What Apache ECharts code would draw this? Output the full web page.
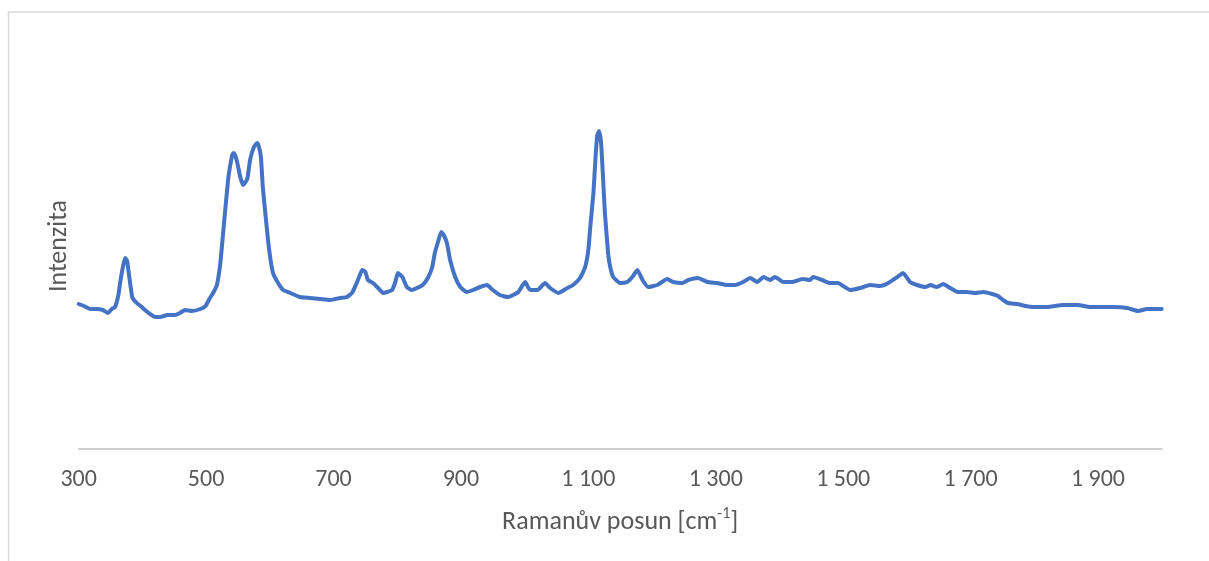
<!DOCTYPE html>
<html><head><meta charset="utf-8">
<script src="https://cdn.jsdelivr.net/npm/echarts@6/dist/echarts.min.js"></script>
<style>html,body{margin:0;padding:0;background:#fff}#c{width:1209px;height:561px}</style>
</head><body><div id="c"></div>
<script>
// Raman shift [cm-1]
const ramanShift = [300,308,318,327,338,346,352,357,362,365,370,373,376,379,384,388,393,399,404,412,420,428,439,451,459,467,478,491,499,506,511,517,522,525,530,535,538,541,543,546,549,554,558,561,565,569,575,580,583,586,589,594,599,605,613,621,632,647,663,679,695,710,721,729,737,742,745,750,754,762,770,778,784,792,797,801,808,815,823,831,840,848,855,859,864,869,873,878,883,891,899,909,919,930,941,950,961,974,982,990,996,1001,1006,1009,1020,1032,1040,1053,1067,1076,1087,1095,1100,1103,1108,1111,1114,1117,1120,1123,1126,1131,1134,1139,1150,1161,1169,1177,1185,1194,1208,1224,1233,1247,1257,1272,1287,1302,1318,1330,1343,1354,1365,1375,1385,1393,1406,1421,1436,1448,1453,1467,1479,1492,1500,1511,1527,1542,1558,1571,1585,1594,1605,1616,1629,1637,1647,1657,1668,1680,1694,1707,1720,1734,1743,1751,1759,1773,1786,1798,1820,1845,1868,1888,1908,1924,1946,1963,1977,2000];
// Intensity (arbitrary units)
const intensity = [145,143,140,140,139,136,140,142,153,166,184,191,188,174,152,148,145,142,139,135,132,132,134,134,136,139,138,140,143,151,156,164,184,204,239,272,284,294,296,293,286,271,264,266,271,289,302,306,302,292,262,229,199,176,166,159,156,152,151,150,149,151,152,156,167,175,179,177,169,166,161,156,157,159,167,176,172,162,159,161,164,171,182,196,207,217,214,206,189,172,162,157,159,162,164,159,154,152,154,157,163,167,161,159,159,166,161,156,161,164,171,182,199,222,256,289,314,318,306,272,236,196,183,172,166,167,172,179,169,162,164,170,167,166,169,171,167,166,164,164,167,171,167,172,169,172,167,167,170,169,172,169,166,166,163,159,161,164,163,166,172,176,167,164,162,164,162,165,161,157,157,156,157,155,153,149,146,145,143,142,142,144,144,142,142,142,141,138,140,140];
const tickValues = [300,500,700,900,1100,1300,1500,1700,1900];
const xAxisTitle = 'Ramanův posun [cm';
const xAxisTitleSup = '-1';
const yAxisTitle = 'Intenzita';

const FONT = 'Carlito, Lato, sans-serif';
const TEXT = '#595959';
const pts = ramanShift.map((x, i) => [x, intensity[i]]);
function fmt(v) {
  if (v >= 1000) { const r = String(v % 1000).padStart(3, '0'); return Math.floor(v / 1000) + ' ' + r; }
  return String(v);
}
const chart = echarts.init(document.getElementById('c'), null, { renderer: 'canvas' });
chart.setOption({
  animation: false,
  backgroundColor: '#ffffff',
  graphic: [{
    type: 'rect', silent: true, z: -1,
    shape: { x: 8.5, y: 12, width: 1220, height: 570 },
    style: { fill: 'none', stroke: '#d9d9d9', lineWidth: 1.5 }
  }],
  grid: { left: 78.7, right: 47.3, top: 29, bottom: 112 },
  xAxis: {
    type: 'value', min: 300, max: 2000,
    axisLine: { show: true, lineStyle: { color: '#cfcfcf', width: 2 } },
    axisTick: { show: false },
    splitLine: { show: false },
    axisLabel: { customValues: tickValues, formatter: fmt, color: TEXT, fontFamily: FONT, fontSize: 24, margin: 19 },
    name: '{a|' + xAxisTitle + '}{s|' + xAxisTitleSup + '}{a|]}',
    nameLocation: 'middle', nameGap: 57,
    nameTextStyle: {
      rich: {
        a: { color: TEXT, fontFamily: FONT, fontSize: 26, lineHeight: 32 },
        s: { color: TEXT, fontFamily: FONT, fontSize: 16, lineHeight: 32, verticalAlign: 'top', padding: [0, 0, 11, 0] }
      }
    }
  },
  yAxis: {
    type: 'value', min: 0, max: 420,
    axisLine: { show: false }, axisTick: { show: false }, axisLabel: { show: false }, splitLine: { show: false },
    name: yAxisTitle, nameLocation: 'middle', nameRotate: 90, nameGap: 6,
    nameTextStyle: { color: TEXT, fontFamily: FONT, fontSize: 26, padding: [0, 14, 0, 0] }
  },
  series: [{
    type: 'line', data: pts, showSymbol: false, smooth: 0.15,
    lineStyle: { color: '#4472C4', width: 4, join: 'round', cap: 'round' }
  }]
});
</script></body></html>
